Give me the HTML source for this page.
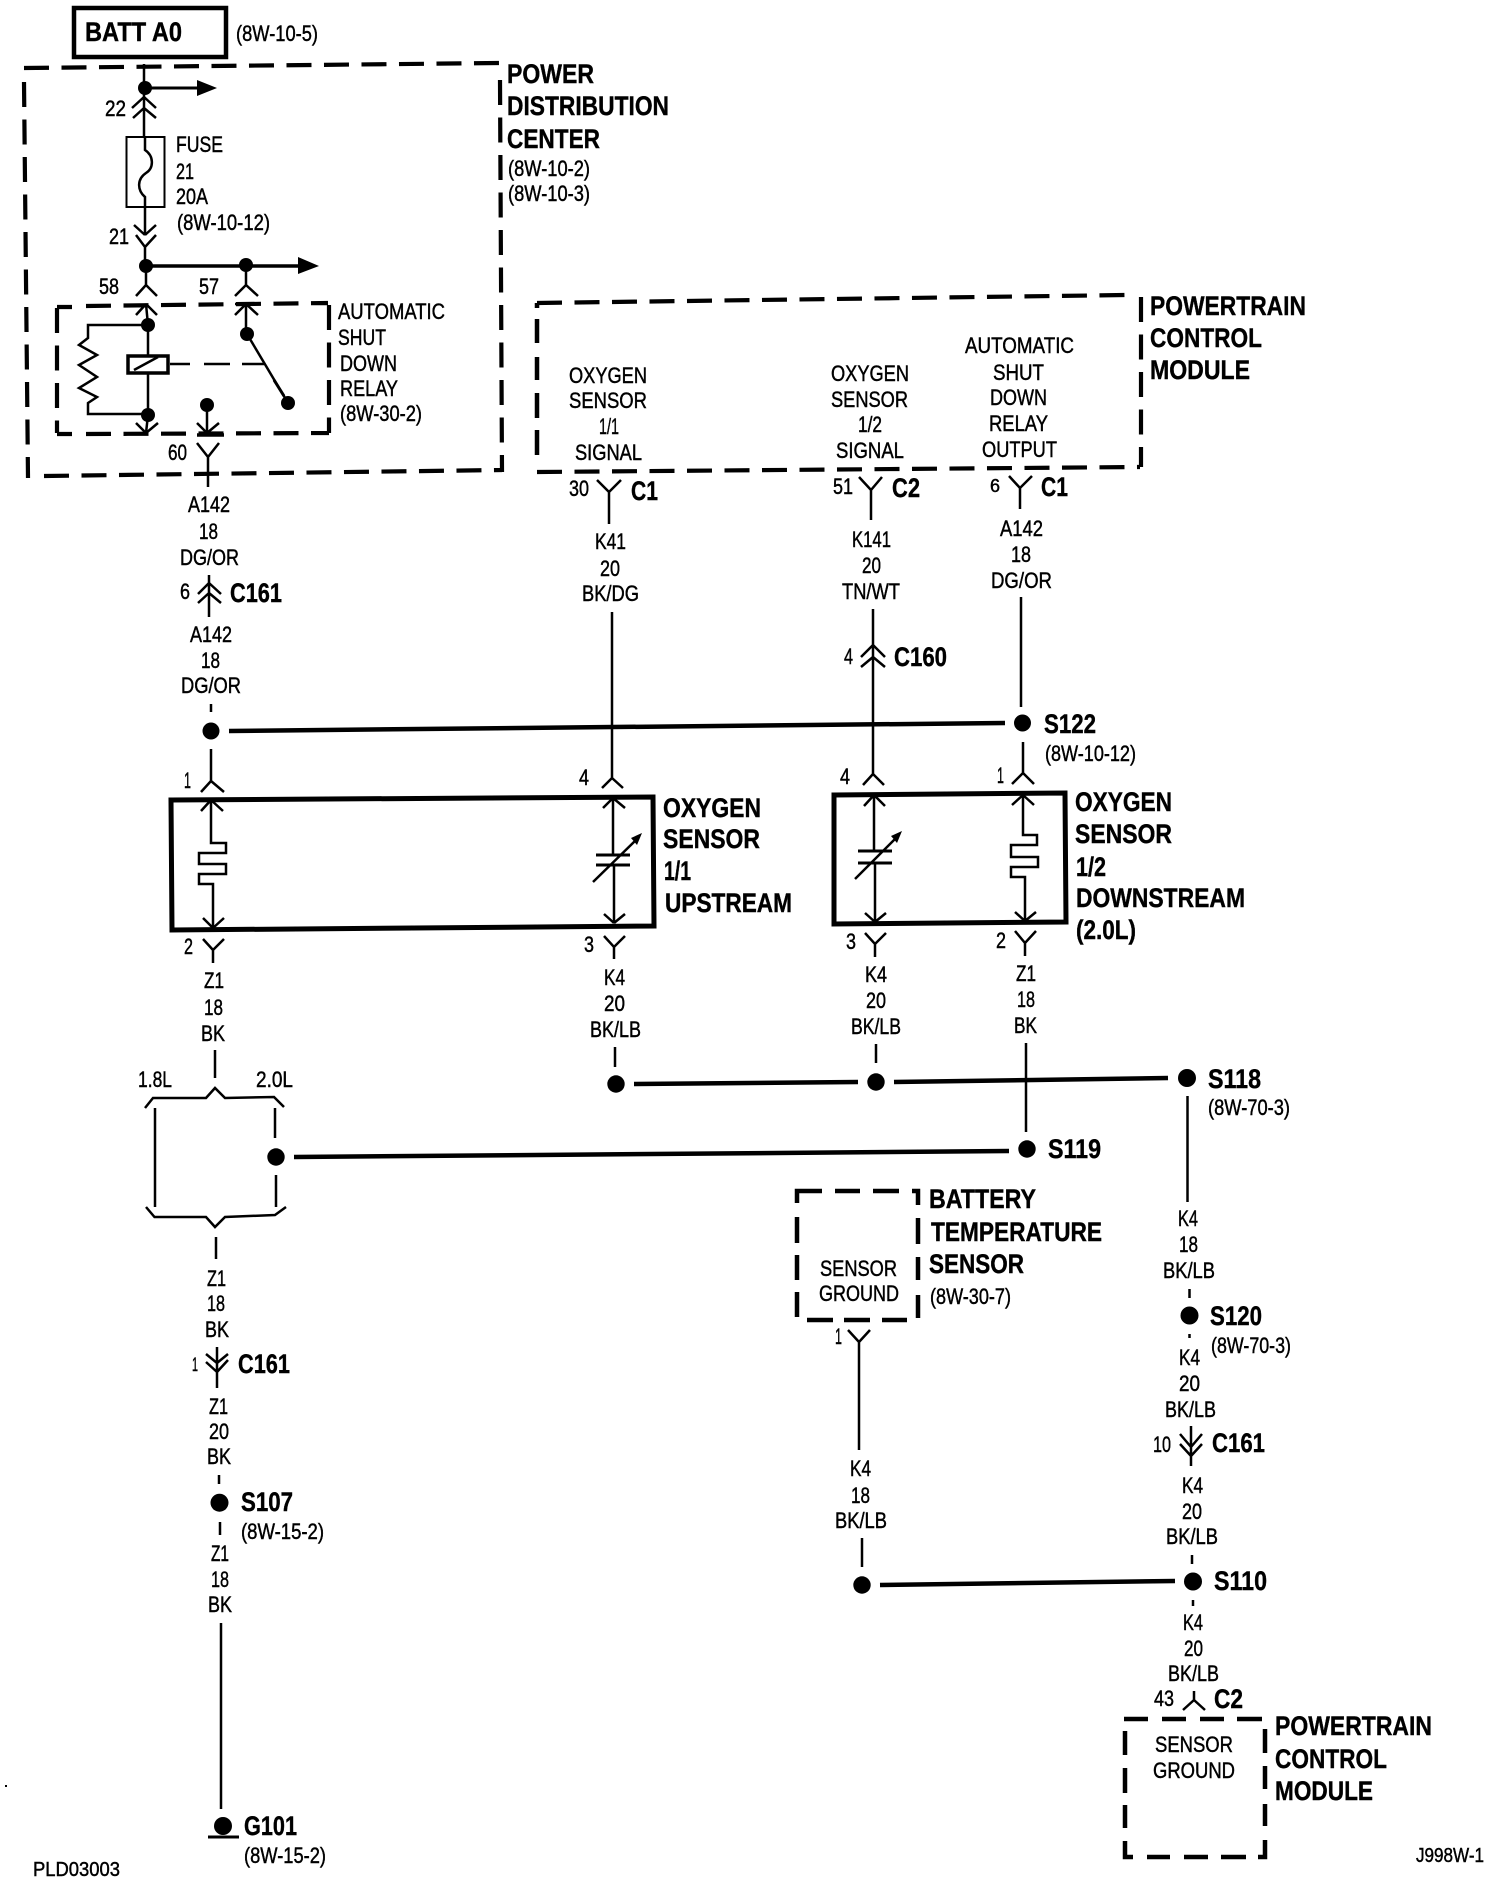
<!DOCTYPE html>
<html><head><meta charset="utf-8"><style>
html,body{margin:0;padding:0;background:#fff}
svg{display:block}
text{fill:#000;font-family:"Liberation Sans",sans-serif}
.r{font-size:22px;stroke:#000;stroke-width:.45px}
.b{font-size:27px;font-weight:bold;stroke:#000;stroke-width:.4px}
.l{fill:none;stroke:#000;stroke-width:2.5}
.t{fill:none;stroke:#000;stroke-width:4.5}
.d{fill:none;stroke:#000;stroke-width:4.2;stroke-dasharray:25 12.500}
.s{fill:none;stroke:#000;stroke-width:4.5}
</style></head><body>
<svg width="1504" height="1884" viewBox="0 0 1504 1884" xmlns="http://www.w3.org/2000/svg">
<rect width="1504" height="1884" fill="#fff"/>

<!-- BATT -->
<rect x="74" y="8" width="152" height="49" class="t"/>
<text class="b" x="85" y="41" textLength="97" lengthAdjust="spacingAndGlyphs">BATT A0</text>
<text class="r" x="236" y="41" textLength="82" lengthAdjust="spacingAndGlyphs">(8W-10-5)</text>

<!-- PDC box -->
<path class="d" d="M24 68L499 63M500 80L502 472M24 82L28 478M44 476L502 470"/>
<text class="b" x="507" y="83" textLength="87" lengthAdjust="spacingAndGlyphs">POWER</text>
<text class="b" x="507" y="115" textLength="162" lengthAdjust="spacingAndGlyphs">DISTRIBUTION</text>
<text class="b" x="507" y="148" textLength="93" lengthAdjust="spacingAndGlyphs">CENTER</text>
<text class="r" x="508" y="176" textLength="82" lengthAdjust="spacingAndGlyphs">(8W-10-2)</text>
<text class="r" x="508" y="201" textLength="82" lengthAdjust="spacingAndGlyphs">(8W-10-3)</text>

<!-- trunk & fuse -->
<path class="l" d="M144 64V137M144 97L132 108M144 97L156 108M144 108L133 118M144 108L156 118"/>
<circle cx="145" cy="88" r="7"/>
<path class="l" style="stroke-width:3" d="M145 88H198"/>
<polygon points="197,80 217,88 197,96"/>
<rect x="126.500" y="137" width="38" height="70" class="l" style="stroke-width:2"/>
<path class="l" d="M145 137V150C154 156 154 168 146 173C137 179 137 190 145 197V235M145 235L134 225M145 235L156 225M145 247L136 235M145 247L156 235M145 247V266"/>
<circle cx="146" cy="266" r="7"/><circle cx="246" cy="265" r="7"/>
<path class="l" style="stroke-width:3.500" d="M146 266H298"/>
<polygon points="298,257 319,266 298,274"/>
<path class="l" d="M146 266V285L136 296M146 285L157 296M246 265V285L235 296M246 285L258 296"/>
<text class="r" x="105" y="116" textLength="21" lengthAdjust="spacingAndGlyphs">22</text>
<text class="r" x="109" y="244" textLength="20" lengthAdjust="spacingAndGlyphs">21</text>
<text class="r" x="99" y="294" textLength="20" lengthAdjust="spacingAndGlyphs">58</text>
<text class="r" x="199" y="294" textLength="20" lengthAdjust="spacingAndGlyphs">57</text>
<text class="r" x="176" y="152" textLength="47" lengthAdjust="spacingAndGlyphs">FUSE</text>
<text class="r" x="176" y="179" textLength="18" lengthAdjust="spacingAndGlyphs">21</text>
<text class="r" x="176" y="204" textLength="32" lengthAdjust="spacingAndGlyphs">20A</text>
<text class="r" x="177" y="230" textLength="93" lengthAdjust="spacingAndGlyphs">(8W-10-12)</text>

<!-- relay -->
<path class="d" d="M57 307H72M86 306L328 303M329 305V433M57 308V433M57 434H72M86 434L329 433"/>
<path class="l" d="M146 304L136 315M146 304L157 315M146 304L148 325V415M148 325H88V338L79 345L97 355L79 365L97 377L79 388L97 397L88 403V414H148M148 415L146 433M146 433L136 423M146 433L158 423"/>
<rect x="128" y="356" width="40" height="17" fill="#fff" stroke="#000" stroke-width="3.500"/>
<path class="l" d="M134 370L158 357"/>
<circle cx="148" cy="325" r="7"/><circle cx="148" cy="415" r="7"/>
<path class="l" d="M235 304H258M246 304L235 315M246 304L258 315M246 304V334M247 334L288 403"/>
<path class="t" style="stroke-width:3" d="M274 380L284 396"/>
<circle cx="247" cy="334" r="7"/><circle cx="288" cy="403" r="7"/>
<path class="l" d="M170 364H190M204 364H230M242 364H264"/>
<circle cx="207" cy="405" r="7"/>
<path class="l" d="M207 405V433M207 433L197 423M207 433L219 423"/>
<path class="t" style="stroke-width:3.500" d="M197 435H224"/>
<path class="l" d="M197 443L208 457L219 443M208 457V487"/>
<text class="r" x="168" y="460" textLength="19" lengthAdjust="spacingAndGlyphs">60</text>
<text class="r" x="338" y="319" textLength="107" lengthAdjust="spacingAndGlyphs">AUTOMATIC</text>
<text class="r" x="338" y="345" textLength="48" lengthAdjust="spacingAndGlyphs">SHUT</text>
<text class="r" x="340" y="371" textLength="57" lengthAdjust="spacingAndGlyphs">DOWN</text>
<text class="r" x="340" y="396" textLength="58" lengthAdjust="spacingAndGlyphs">RELAY</text>
<text class="r" x="340" y="421" textLength="82" lengthAdjust="spacingAndGlyphs">(8W-30-2)</text>

<!-- A142 left -->
<text class="r" x="188" y="512" textLength="42" lengthAdjust="spacingAndGlyphs">A142</text>
<text class="r" x="199" y="539" textLength="19" lengthAdjust="spacingAndGlyphs">18</text>
<text class="r" x="180" y="565" textLength="59" lengthAdjust="spacingAndGlyphs">DG/OR</text>
<text class="r" x="180" y="599" textLength="10" lengthAdjust="spacingAndGlyphs">6</text>
<path class="l" d="M209 575V617M209 583L198 594M209 583L221 594M209 593L198 603M209 593L221 603"/>
<text class="b" x="230" y="602" textLength="52" lengthAdjust="spacingAndGlyphs">C161</text>
<text class="r" x="190" y="642" textLength="42" lengthAdjust="spacingAndGlyphs">A142</text>
<text class="r" x="201" y="668" textLength="19" lengthAdjust="spacingAndGlyphs">18</text>
<text class="r" x="181" y="693" textLength="60" lengthAdjust="spacingAndGlyphs">DG/OR</text>
<path class="l" d="M211 704V712M211 749V781L201 792M211 781L224 792"/>
<circle cx="211" cy="731" r="8.500"/>
<path class="t" d="M229 731L1005 723"/>

<!-- PCM top -->
<path class="d" d="M537 303L1127 295M1141 297V467M537 472L1140 467"/>
<path class="s" d="M537 303V308M537 319V343M537 357V380M537 393V418M537 430V455"/>
<text class="b" x="1150" y="315" textLength="156" lengthAdjust="spacingAndGlyphs">POWERTRAIN</text>
<text class="b" x="1150" y="347" textLength="112" lengthAdjust="spacingAndGlyphs">CONTROL</text>
<text class="b" x="1150" y="379" textLength="100" lengthAdjust="spacingAndGlyphs">MODULE</text>

<text class="r" x="569" y="383" textLength="78" lengthAdjust="spacingAndGlyphs">OXYGEN</text>
<text class="r" x="569" y="408" textLength="78" lengthAdjust="spacingAndGlyphs">SENSOR</text>
<text class="r" x="599" y="434" textLength="20" lengthAdjust="spacingAndGlyphs">1/1</text>
<text class="r" x="575" y="460" textLength="67" lengthAdjust="spacingAndGlyphs">SIGNAL</text>
<text class="r" x="831" y="381" textLength="78" lengthAdjust="spacingAndGlyphs">OXYGEN</text>
<text class="r" x="831" y="407" textLength="77" lengthAdjust="spacingAndGlyphs">SENSOR</text>
<text class="r" x="858" y="432" textLength="24" lengthAdjust="spacingAndGlyphs">1/2</text>
<text class="r" x="836" y="458" textLength="68" lengthAdjust="spacingAndGlyphs">SIGNAL</text>
<text class="r" x="965" y="353" textLength="109" lengthAdjust="spacingAndGlyphs">AUTOMATIC</text>
<text class="r" x="993" y="380" textLength="51" lengthAdjust="spacingAndGlyphs">SHUT</text>
<text class="r" x="990" y="405" textLength="57" lengthAdjust="spacingAndGlyphs">DOWN</text>
<text class="r" x="989" y="431" textLength="59" lengthAdjust="spacingAndGlyphs">RELAY</text>
<text class="r" x="982" y="457" textLength="75" lengthAdjust="spacingAndGlyphs">OUTPUT</text>

<text class="r" x="569" y="496" textLength="20" lengthAdjust="spacingAndGlyphs">30</text>
<path class="l" d="M597 480L609 492L621 480M609 492V524"/>
<text class="b" x="631" y="500" textLength="27" lengthAdjust="spacingAndGlyphs">C1</text>
<text class="r" x="833" y="494" textLength="20" lengthAdjust="spacingAndGlyphs">51</text>
<path class="l" d="M859 477L871 490L882 477M871 490V520"/>
<text class="b" x="892" y="497" textLength="28" lengthAdjust="spacingAndGlyphs">C2</text>
<text class="r" x="990" y="492" style="font-size:18px" textLength="10" lengthAdjust="spacingAndGlyphs">6</text>
<path class="l" d="M1009 476L1020 488L1032 476M1020 488V509"/>
<text class="b" x="1041" y="496" textLength="27" lengthAdjust="spacingAndGlyphs">C1</text>

<text class="r" x="595" y="549" textLength="31" lengthAdjust="spacingAndGlyphs">K41</text>
<text class="r" x="600" y="576" textLength="20" lengthAdjust="spacingAndGlyphs">20</text>
<text class="r" x="582" y="601" textLength="57" lengthAdjust="spacingAndGlyphs">BK/DG</text>
<text class="r" x="852" y="547" textLength="39" lengthAdjust="spacingAndGlyphs">K141</text>
<text class="r" x="862" y="573" textLength="19" lengthAdjust="spacingAndGlyphs">20</text>
<text class="r" x="842" y="599" textLength="58" lengthAdjust="spacingAndGlyphs">TN/WT</text>
<text class="r" x="1000" y="536" textLength="43" lengthAdjust="spacingAndGlyphs">A142</text>
<text class="r" x="1011" y="562" textLength="20" lengthAdjust="spacingAndGlyphs">18</text>
<text class="r" x="991" y="588" textLength="61" lengthAdjust="spacingAndGlyphs">DG/OR</text>

<path class="l" d="M612 612V778L602 788M612 778L623 788"/>
<path class="l" d="M873 609V774L863 785M873 774L884 785M873 645L861 657M873 645L885 657M873 657L861 667M873 657L885 667"/>
<path class="l" d="M1021 597V707M1023 742V773L1012 784M1023 773L1034 784"/>
<text class="r" x="844" y="664" textLength="9" lengthAdjust="spacingAndGlyphs">4</text>
<text class="b" x="894" y="666" textLength="53" lengthAdjust="spacingAndGlyphs">C160</text>
<circle cx="1022.500" cy="723" r="8.500"/>
<text class="b" x="1044" y="733" textLength="52" lengthAdjust="spacingAndGlyphs">S122</text>
<text class="r" x="1045" y="761" textLength="91" lengthAdjust="spacingAndGlyphs">(8W-10-12)</text>

<!-- Oxygen sensor 1/1 -->
<path class="t" style="stroke-width:5" d="M171 800L653 797L654 926L172 930Z"/>
<text class="r" x="184" y="788" textLength="7" lengthAdjust="spacingAndGlyphs">1</text>
<text class="r" x="579" y="785" textLength="10" lengthAdjust="spacingAndGlyphs">4</text>
<path class="l" d="M211 800L201 811M211 800L223 811M211 800V843H226V853H199V864H226V874H199V884H213V928M213 928L203 918M213 928L224 918"/>
<path class="l" d="M213 950L203 939M213 950L224 939M213 950V963" />
<text class="r" x="184" y="954" textLength="9" lengthAdjust="spacingAndGlyphs">2</text>
<path class="l" d="M613 798L603 808M613 798L625 808M613 798V855M614 865V923M614 923L604 914M614 923L625 914"/>
<path class="t" style="stroke-width:3" d="M596 855H630M596 865H630"/>
<path class="l" d="M593 882L636 840"/>
<polygon points="642,833 631,838 637,845"/>
<path class="l" d="M604 936L614 947L625 936M614 947V959"/>
<text class="r" x="584" y="952" textLength="10" lengthAdjust="spacingAndGlyphs">3</text>
<text class="b" x="663" y="817" textLength="98" lengthAdjust="spacingAndGlyphs">OXYGEN</text>
<text class="b" x="663" y="848" textLength="97" lengthAdjust="spacingAndGlyphs">SENSOR</text>
<text class="b" x="664" y="880" textLength="27" lengthAdjust="spacingAndGlyphs">1/1</text>
<text class="b" x="665" y="912" textLength="127" lengthAdjust="spacingAndGlyphs">UPSTREAM</text>

<text class="r" x="204" y="988" textLength="20" lengthAdjust="spacingAndGlyphs">Z1</text>
<text class="r" x="204" y="1015" textLength="19" lengthAdjust="spacingAndGlyphs">18</text>
<text class="r" x="201" y="1041" textLength="24" lengthAdjust="spacingAndGlyphs">BK</text>
<text class="r" x="604" y="985" textLength="21" lengthAdjust="spacingAndGlyphs">K4</text>
<text class="r" x="604" y="1011" textLength="21" lengthAdjust="spacingAndGlyphs">20</text>
<text class="r" x="590" y="1037" textLength="51" lengthAdjust="spacingAndGlyphs">BK/LB</text>
<path class="l" d="M215 1050V1078M615 1047V1067"/>
<circle cx="616" cy="1084" r="8.700"/>
<path class="t" d="M634 1084L858 1082"/>
<circle cx="876" cy="1082" r="8.700"/>
<path class="t" d="M894 1082L1168 1078"/>
<circle cx="1187" cy="1078" r="9"/>
<text class="b" x="1208" y="1088" textLength="53" lengthAdjust="spacingAndGlyphs">S118</text>
<text class="r" x="1208" y="1115" textLength="82" lengthAdjust="spacingAndGlyphs">(8W-70-3)</text>

<!-- brace -->
<text class="r" x="138" y="1087" textLength="34" lengthAdjust="spacingAndGlyphs">1.8L</text>
<text class="r" x="256" y="1087" textLength="37" lengthAdjust="spacingAndGlyphs">2.0L</text>
<path class="l" d="M145 1108L153 1098L206 1098L215 1088L225 1098L274 1097L284 1107"/>
<path class="l" d="M155 1108V1207M275 1108V1138M276 1175V1207"/>
<path class="l" d="M146 1207L154.500 1217L206 1217L215 1227L225 1217L275 1215L286 1207"/>
<circle cx="276" cy="1157" r="8.700"/>
<path class="t" d="M294 1157L1009 1151"/>
<path class="l" d="M216 1237V1259"/>

<!-- Oxygen sensor 1/2 -->
<path class="t" style="stroke-width:5" d="M834 795L1065 793L1066 922L834 924Z"/>
<text class="r" x="840" y="784" textLength="10" lengthAdjust="spacingAndGlyphs">4</text>
<text class="r" x="997" y="783" textLength="7" lengthAdjust="spacingAndGlyphs">1</text>
<path class="l" d="M874 795L864 806M874 795L885 806M874 795V851M875 863V922M875 922L865 913M875 922L886 913"/>
<path class="t" style="stroke-width:3" d="M858 851H892M858 863H892"/>
<path class="l" d="M855 879L896 838"/>
<polygon points="902,831 891,836 897,843"/>
<path class="l" d="M1023 795L1012 805M1023 795L1034 805M1023 795V835H1037V845H1011V857H1038V867H1011V877H1025V921M1025 921L1015 912M1025 921L1036 912"/>
<path class="l" d="M865 933L875 944L886 933M875 944V957M1015 931L1025 943L1036 931M1025 943V956"/>
<text class="r" x="846" y="949" textLength="10" lengthAdjust="spacingAndGlyphs">3</text>
<text class="r" x="996" y="948" textLength="10" lengthAdjust="spacingAndGlyphs">2</text>
<text class="b" x="1075" y="811" textLength="97" lengthAdjust="spacingAndGlyphs">OXYGEN</text>
<text class="b" x="1075" y="843" textLength="97" lengthAdjust="spacingAndGlyphs">SENSOR</text>
<text class="b" x="1076" y="876" textLength="30" lengthAdjust="spacingAndGlyphs">1/2</text>
<text class="b" x="1076" y="907" textLength="169" lengthAdjust="spacingAndGlyphs">DOWNSTREAM</text>
<text class="b" x="1076" y="939" textLength="60" lengthAdjust="spacingAndGlyphs">(2.0L)</text>

<text class="r" x="865" y="982" textLength="22" lengthAdjust="spacingAndGlyphs">K4</text>
<text class="r" x="866" y="1008" textLength="20" lengthAdjust="spacingAndGlyphs">20</text>
<text class="r" x="851" y="1034" textLength="50" lengthAdjust="spacingAndGlyphs">BK/LB</text>
<text class="r" x="1016" y="981" textLength="20" lengthAdjust="spacingAndGlyphs">Z1</text>
<text class="r" x="1017" y="1007" textLength="18" lengthAdjust="spacingAndGlyphs">18</text>
<text class="r" x="1014" y="1033" textLength="23" lengthAdjust="spacingAndGlyphs">BK</text>
<path class="l" d="M876 1044V1063M1026 1043V1132"/>
<circle cx="1027" cy="1149" r="8.700"/>
<text class="b" x="1048" y="1158" textLength="53" lengthAdjust="spacingAndGlyphs">S119</text>
<path class="l" d="M1187.500 1096V1202"/>

<!-- Battery temp -->
<path class="s" d="M797 1203V1191H822M835 1191H860M873 1191H899M912 1191H918V1205M918 1218V1244M918 1257V1280M918 1295V1318M807 1320H833M844 1320H870M882 1320H907M797 1217V1243M797 1255V1280M797 1292V1317"/>
<text class="b" x="929" y="1208" textLength="107" lengthAdjust="spacingAndGlyphs">BATTERY</text>
<text class="b" x="931" y="1241" textLength="171" lengthAdjust="spacingAndGlyphs">TEMPERATURE</text>
<text class="b" x="929" y="1273" textLength="95" lengthAdjust="spacingAndGlyphs">SENSOR</text>
<text class="r" x="930" y="1304" textLength="81" lengthAdjust="spacingAndGlyphs">(8W-30-7)</text>
<text class="r" x="820" y="1276" textLength="77" lengthAdjust="spacingAndGlyphs">SENSOR</text>
<text class="r" x="819" y="1301" textLength="80" lengthAdjust="spacingAndGlyphs">GROUND</text>
<text class="r" x="835" y="1344" textLength="7" lengthAdjust="spacingAndGlyphs">1</text>
<path class="l" d="M848 1330L859 1342L870 1330M859 1342V1450"/>
<text class="r" x="850" y="1476" textLength="21" lengthAdjust="spacingAndGlyphs">K4</text>
<text class="r" x="851" y="1503" textLength="19" lengthAdjust="spacingAndGlyphs">18</text>
<text class="r" x="835" y="1528" textLength="52" lengthAdjust="spacingAndGlyphs">BK/LB</text>
<path class="l" d="M862 1538V1567"/>
<circle cx="862" cy="1585" r="8.700"/>
<path class="t" d="M880 1585L1175 1581"/>
<circle cx="1193" cy="1581.500" r="9"/>
<text class="b" x="1214" y="1590" textLength="53" lengthAdjust="spacingAndGlyphs">S110</text>

<!-- right column -->
<text class="r" x="1178" y="1226" textLength="20" lengthAdjust="spacingAndGlyphs">K4</text>
<text class="r" x="1179" y="1252" textLength="19" lengthAdjust="spacingAndGlyphs">18</text>
<text class="r" x="1163" y="1278" textLength="52" lengthAdjust="spacingAndGlyphs">BK/LB</text>
<path class="l" d="M1189.500 1289V1298M1189.500 1334V1338"/>
<circle cx="1189.500" cy="1315.500" r="9"/>
<text class="b" x="1210" y="1325" textLength="52" lengthAdjust="spacingAndGlyphs">S120</text>
<text class="r" x="1211" y="1353" textLength="80" lengthAdjust="spacingAndGlyphs">(8W-70-3)</text>
<text class="r" x="1179" y="1365" textLength="21" lengthAdjust="spacingAndGlyphs">K4</text>
<text class="r" x="1179" y="1391" textLength="21" lengthAdjust="spacingAndGlyphs">20</text>
<text class="r" x="1165" y="1417" textLength="51" lengthAdjust="spacingAndGlyphs">BK/LB</text>
<path class="l" d="M1191 1426V1466M1191 1447L1180 1434M1191 1447L1202 1434M1191 1456L1180 1444M1191 1456L1202 1444"/>
<text class="r" x="1153" y="1452" textLength="18" lengthAdjust="spacingAndGlyphs">10</text>
<text class="b" x="1212" y="1452" textLength="53" lengthAdjust="spacingAndGlyphs">C161</text>
<text class="r" x="1182" y="1493" textLength="21" lengthAdjust="spacingAndGlyphs">K4</text>
<text class="r" x="1182" y="1519" textLength="20" lengthAdjust="spacingAndGlyphs">20</text>
<text class="r" x="1166" y="1544" textLength="52" lengthAdjust="spacingAndGlyphs">BK/LB</text>
<path class="l" d="M1192 1555V1564M1193 1600V1606"/>
<text class="r" x="1183" y="1630" textLength="20" lengthAdjust="spacingAndGlyphs">K4</text>
<text class="r" x="1184" y="1656" textLength="19" lengthAdjust="spacingAndGlyphs">20</text>
<text class="r" x="1168" y="1681" textLength="51" lengthAdjust="spacingAndGlyphs">BK/LB</text>
<text class="r" x="1154" y="1706" textLength="20" lengthAdjust="spacingAndGlyphs">43</text>
<path class="l" d="M1194 1691V1700L1183 1710M1194 1700L1205 1710"/>
<text class="b" x="1214" y="1708" textLength="29" lengthAdjust="spacingAndGlyphs">C2</text>
<path class="s" d="M1124 1719H1148M1162 1719H1186M1200 1719H1224M1237 1719H1262M1125 1731V1755M1125 1768V1793M1125 1805V1828M1125 1841V1857H1133M1147 1857H1170M1184 1857H1208M1221 1857H1246M1258 1857H1265V1840M1265 1826V1804M1265 1789V1766M1265 1753V1729"/>
<text class="r" x="1155" y="1752" textLength="78" lengthAdjust="spacingAndGlyphs">SENSOR</text>
<text class="r" x="1153" y="1778" textLength="82" lengthAdjust="spacingAndGlyphs">GROUND</text>
<text class="b" x="1275" y="1735" textLength="157" lengthAdjust="spacingAndGlyphs">POWERTRAIN</text>
<text class="b" x="1275" y="1768" textLength="112" lengthAdjust="spacingAndGlyphs">CONTROL</text>
<text class="b" x="1275" y="1800" textLength="98" lengthAdjust="spacingAndGlyphs">MODULE</text>
<text class="r" x="1416" y="1862" style="font-size:20px" textLength="68" lengthAdjust="spacingAndGlyphs">J998W-1</text>

<!-- left column bottom -->
<text class="r" x="207" y="1286" textLength="19" lengthAdjust="spacingAndGlyphs">Z1</text>
<text class="r" x="207" y="1311" textLength="18" lengthAdjust="spacingAndGlyphs">18</text>
<text class="r" x="205" y="1337" textLength="24" lengthAdjust="spacingAndGlyphs">BK</text>
<path class="l" d="M217 1347V1388M217 1363L206 1354M217 1363L228 1354M217 1372L206 1362M217 1372L228 1360"/>
<text class="r" x="192" y="1371" style="font-size:19px" textLength="6" lengthAdjust="spacingAndGlyphs">1</text>
<text class="b" x="238" y="1373" textLength="52" lengthAdjust="spacingAndGlyphs">C161</text>
<text class="r" x="209" y="1414" textLength="19" lengthAdjust="spacingAndGlyphs">Z1</text>
<text class="r" x="209" y="1439" textLength="20" lengthAdjust="spacingAndGlyphs">20</text>
<text class="r" x="207" y="1464" textLength="24" lengthAdjust="spacingAndGlyphs">BK</text>
<path class="l" d="M219 1475V1484M220 1522V1535"/>
<circle cx="219.500" cy="1502.700" r="9"/>
<text class="b" x="241" y="1511" textLength="52" lengthAdjust="spacingAndGlyphs">S107</text>
<text class="r" x="241" y="1539" textLength="83" lengthAdjust="spacingAndGlyphs">(8W-15-2)</text>
<text class="r" x="211" y="1561" textLength="18" lengthAdjust="spacingAndGlyphs">Z1</text>
<text class="r" x="211" y="1587" textLength="18" lengthAdjust="spacingAndGlyphs">18</text>
<text class="r" x="208" y="1612" textLength="24" lengthAdjust="spacingAndGlyphs">BK</text>
<path class="l" d="M221 1623V1809"/>
<circle cx="223" cy="1826" r="9"/>
<path class="t" style="stroke-width:3" d="M208 1837H239"/>
<text class="b" x="244" y="1835" textLength="53" lengthAdjust="spacingAndGlyphs">G101</text>
<text class="r" x="244" y="1863" textLength="82" lengthAdjust="spacingAndGlyphs">(8W-15-2)</text>
<text class="r" x="33" y="1876" style="font-size:20px" textLength="87" lengthAdjust="spacingAndGlyphs">PLD03003</text>
<rect x="5" y="1785" width="2" height="2"/>
</svg>
</body></html>
